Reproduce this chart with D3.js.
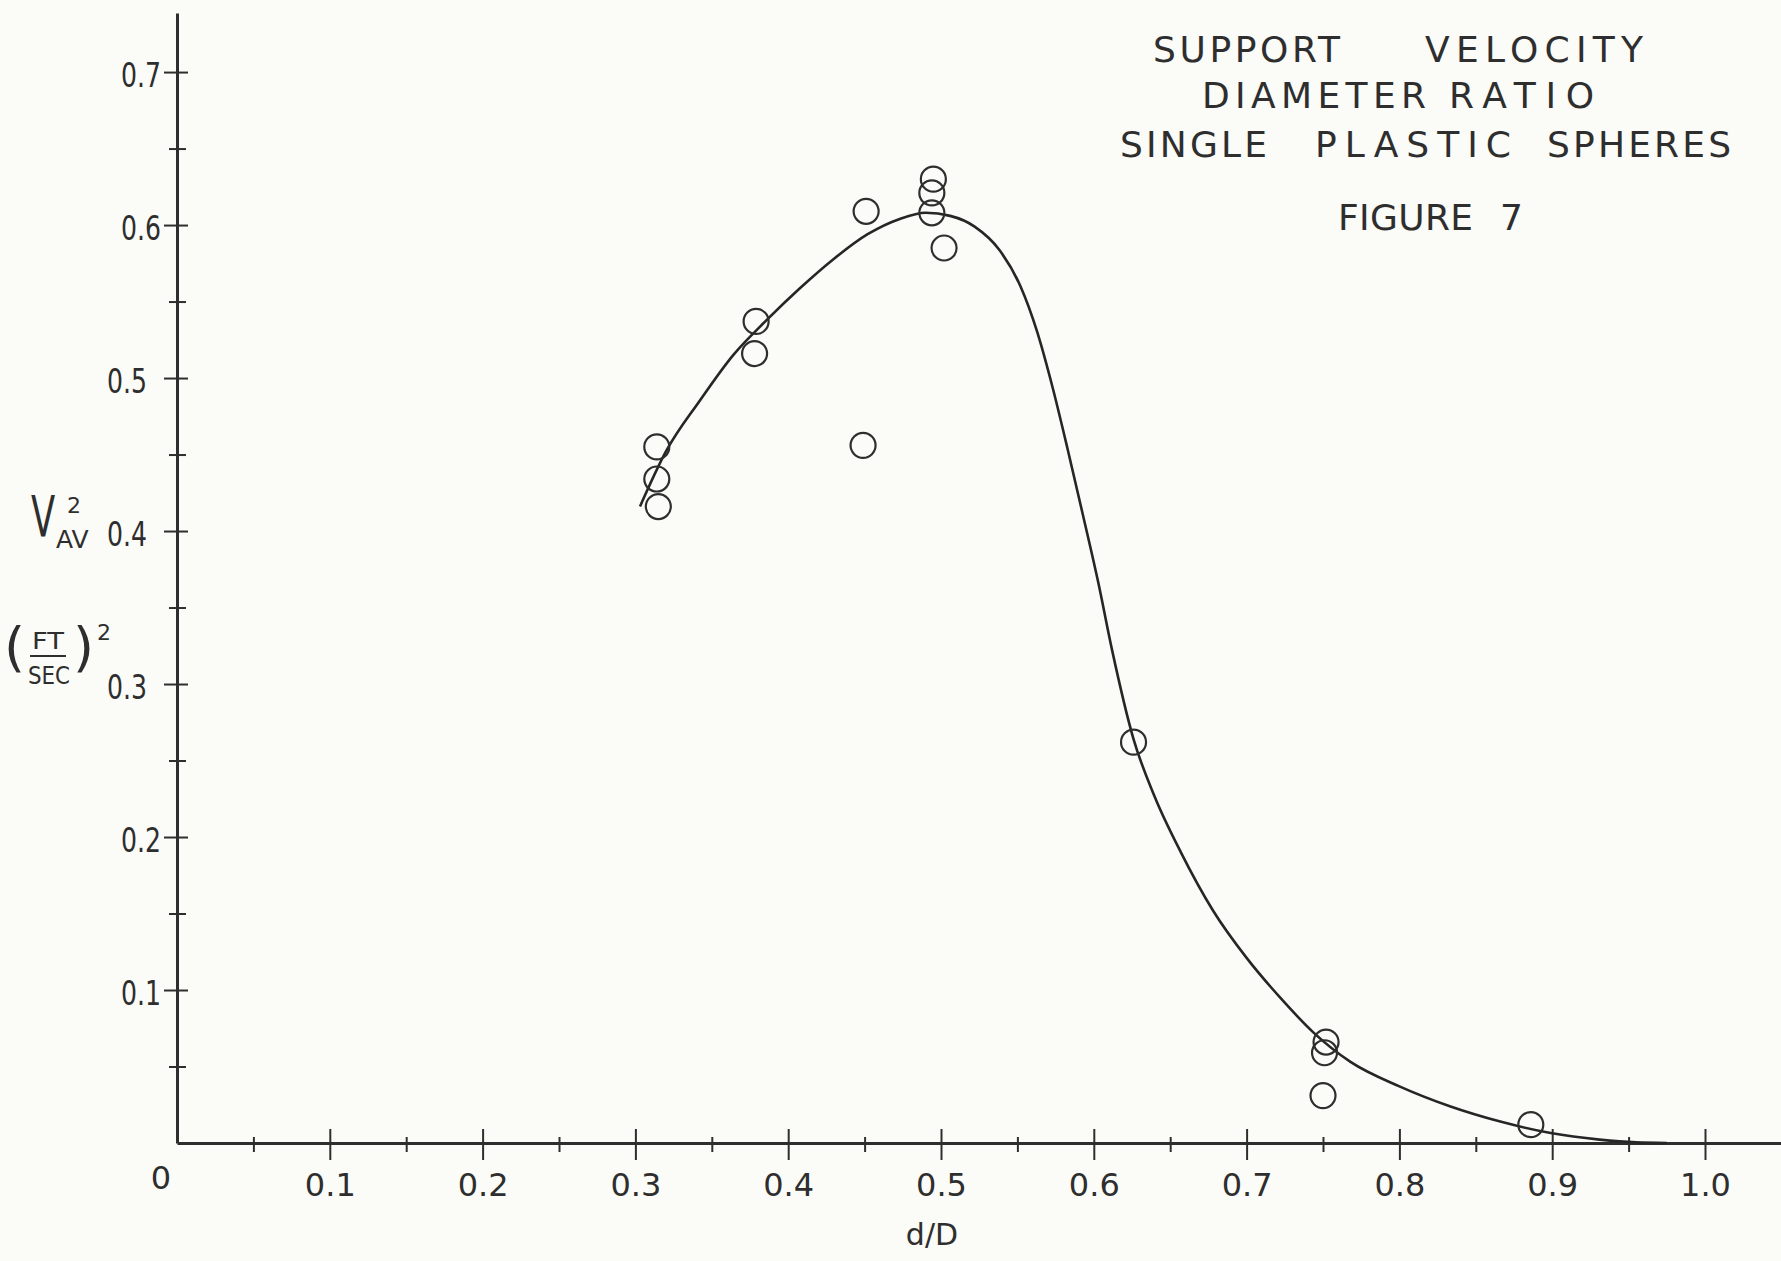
<!DOCTYPE html>
<html>
<head>
<meta charset="utf-8">
<script src="https://cdn.jsdelivr.net/npm/d3@7"></script>
<style>
  body { margin: 0; background: #fbfbf7; }
  svg { display: block; }
  text { font-family: "DejaVu Sans", sans-serif; fill: #2e2e2e; }
</style>
</head>
<body>
<div id="chart"></div>
<script>
// Support velocity vs diameter ratio (single plastic spheres)

// measured points, d/D and V_av^2
const pointD = [0.314, 0.314, 0.315, 0.379, 0.378, 0.451, 0.449, 0.495, 0.494, 0.494, 0.502, 0.626, 0.752, 0.751, 0.750, 0.886]
const pointV = [0.455, 0.434, 0.416, 0.537, 0.516, 0.609, 0.456, 0.630, 0.621, 0.608, 0.585, 0.262, 0.066, 0.059, 0.031, 0.012]

// hand drawn fitted curve
const curveD = [0.303, 0.320, 0.342, 0.364, 0.386, 0.408, 0.430, 0.452, 0.473, 0.490, 0.506, 0.522, 0.538, 0.552,
  0.563, 0.573, 0.583, 0.593, 0.603, 0.612, 0.626, 0.640, 0.657, 0.678, 0.700, 0.722, 0.744, 0.768, 0.800,
  0.833, 0.866, 0.899, 0.931, 0.955, 0.975]
const curveV = [0.416, 0.452, 0.485, 0.515, 0.538, 0.559, 0.578, 0.594, 0.604, 0.608, 0.606, 0.599, 0.584, 0.560,
  0.530, 0.494, 0.453, 0.410, 0.366, 0.322, 0.264, 0.226, 0.190, 0.152, 0.121, 0.095, 0.072, 0.053, 0.037,
  0.024, 0.014, 0.0065, 0.0022, 0.0004, 0]

// axis ticks
const xTickValues = [0.1, 0.2, 0.3, 0.4, 0.5, 0.6, 0.7, 0.8, 0.9, 1.0]
const xMinorValues = [0.05, 0.15, 0.25, 0.35, 0.45, 0.55, 0.65, 0.75, 0.85, 0.95]
const yTickValues = [0.1, 0.2, 0.3, 0.4, 0.5, 0.6, 0.7]
const yMinorValues = [0.05, 0.15, 0.25, 0.35, 0.45, 0.55, 0.65]

const width = 1781
const height = 1261
const ink = '#2e2e2e'

const x = d3.scaleLinear().domain([0, 1.05]).range([177, 1781.4])
const y = d3.scaleLinear().domain([0, 0.7386]).range([1143, 13])

const svg = d3.select('#chart')
  .append('svg')
  .attr('width', width)
  .attr('height', height)

svg.append('rect')
  .attr('width', width)
  .attr('height', height)
  .attr('fill', '#fbfbf7')

// x axis, ticks cross the line
const gx = svg.append('g')
  .attr('transform', `translate(0,${y(0)})`)
  .call(d3.axisBottom(x).tickValues(xTickValues).tickSize(17).tickSizeOuter(0)
    .tickFormat(d3.format('.1f')))
gx.select('.domain').attr('stroke', ink).attr('stroke-width', 3)
gx.selectAll('.tick line').attr('y1', -14).attr('stroke', ink).attr('stroke-width', 2)
gx.selectAll('.tick text')
  .attr('y', 53).attr('dy', 0)
  .attr('font-size', 32)
  .attr('font-family', '"DejaVu Sans", sans-serif')
  .attr('fill', ink)

const gxMinor = svg.append('g')
  .attr('transform', `translate(0,${y(0)})`)
  .call(d3.axisBottom(x).tickValues(xMinorValues).tickSize(9).tickFormat(''))
gxMinor.select('.domain').remove()
gxMinor.selectAll('.tick line').attr('y1', -6).attr('stroke', ink).attr('stroke-width', 2)

// y axis; the middle labels sit further out to leave room for the unit
const gy = svg.append('g')
  .attr('transform', `translate(${x(0)},0)`)
  .call(d3.axisLeft(y).tickValues(yTickValues).tickSize(13).tickSizeOuter(0)
    .tickFormat(d3.format('.1f')))
gy.select('.domain').attr('stroke', ink).attr('stroke-width', 3)
gy.selectAll('.tick line').attr('x1', 11).attr('stroke', ink).attr('stroke-width', 2)
gy.selectAll('.tick text')
  .attr('x', d => (d >= 0.25 && d <= 0.55) ? -30 : -16)
  .attr('dy', '0.42em')
  .attr('font-size', 34)
  .attr('textLength', 40)
  .attr('lengthAdjust', 'spacingAndGlyphs')
  .attr('font-family', '"DejaVu Sans", sans-serif')
  .attr('fill', ink)

const gyMinor = svg.append('g')
  .attr('transform', `translate(${x(0)},0)`)
  .call(d3.axisLeft(y).tickValues(yMinorValues).tickSize(8).tickFormat(''))
gyMinor.select('.domain').remove()
gyMinor.selectAll('.tick line').attr('x1', 9).attr('stroke', ink).attr('stroke-width', 2)

// origin label
svg.append('text')
  .attr('x', x(0) - 16)
  .attr('y', y(0) + 46)
  .attr('text-anchor', 'middle')
  .attr('font-size', 32)
  .text('0')

// x axis title
svg.append('text')
  .attr('x', 932)
  .attr('y', 1245)
  .attr('text-anchor', 'middle')
  .attr('font-size', 30)
  .text('d/D')

// y axis title: V_AV^2 (FT/SEC)^2
svg.append('text')
  .attr('transform', 'translate(31,537) scale(0.62,1)')
  .attr('font-size', 57)
  .text('V')
svg.append('text').attr('x', 67).attr('y', 513).attr('font-size', 22).text('2')
svg.append('text').attr('x', 56).attr('y', 548).attr('font-size', 25).text('AV')

svg.append('text').attr('x', 4).attr('y', 666).attr('font-size', 54).text('(')
svg.append('text').attr('x', 48).attr('y', 649).attr('text-anchor', 'middle')
  .attr('font-size', 23).attr('textLength', 32).attr('lengthAdjust', 'spacingAndGlyphs').text('FT')
svg.append('line')
  .attr('x1', 30).attr('x2', 66).attr('y1', 656).attr('y2', 656)
  .attr('stroke', ink).attr('stroke-width', 2)
svg.append('text').attr('x', 49).attr('y', 684).attr('text-anchor', 'middle')
  .attr('font-size', 25).attr('textLength', 42).attr('lengthAdjust', 'spacingAndGlyphs').text('SEC')
svg.append('text').attr('x', 73).attr('y', 666).attr('font-size', 54).text(')')
svg.append('text').attr('x', 97).attr('y', 640).attr('font-size', 22).text('2')

// title block, word by word like the typed original
const titleWords = [
  { t: 'SUPPORT', x: 1153, y: 62, len: 187 },
  { t: 'VELOCITY', x: 1425, y: 62, len: 218 },
  { t: 'DIAMETER', x: 1202, y: 108, len: 224 },
  { t: 'RATIO', x: 1449, y: 108, len: 145 },
  { t: 'SINGLE', x: 1120, y: 157, len: 147 },
  { t: 'PLASTIC', x: 1315, y: 157, len: 196 },
  { t: 'SPHERES', x: 1547, y: 157, len: 184 },
  { t: 'FIGURE', x: 1338, y: 230, len: 135 },
  { t: '7', x: 1500, y: 230, len: null }
]
svg.append('g')
  .selectAll('text')
  .data(titleWords)
  .enter()
  .append('text')
  .attr('x', d => d.x)
  .attr('y', d => d.y)
  .attr('font-size', 36)
  .attr('fill', '#2a2a2a')
  .attr('textLength', d => d.len)
  .attr('lengthAdjust', 'spacing')
  .text(d => d.t)

// fitted curve
const curve = curveD.map((d, i) => [d, curveV[i]])
svg.append('path')
  .datum(curve)
  .attr('fill', 'none')
  .attr('stroke', '#262626')
  .attr('stroke-width', 2.6)
  .attr('d', d3.line()
    .x(d => x(d[0]))
    .y(d => y(d[1]))
    .curve(d3.curveMonotoneX))

// data circles
const points = pointD.map((d, i) => ({ d: d, v: pointV[i] }))
svg.selectAll('circle.pt')
  .data(points)
  .enter()
  .append('circle')
  .attr('class', 'pt')
  .attr('cx', p => x(p.d))
  .attr('cy', p => y(p.v))
  .attr('r', 12.5)
  .attr('fill', 'none')
  .attr('stroke', ink)
  .attr('stroke-width', 2.2)
</script>
</body>
</html>
